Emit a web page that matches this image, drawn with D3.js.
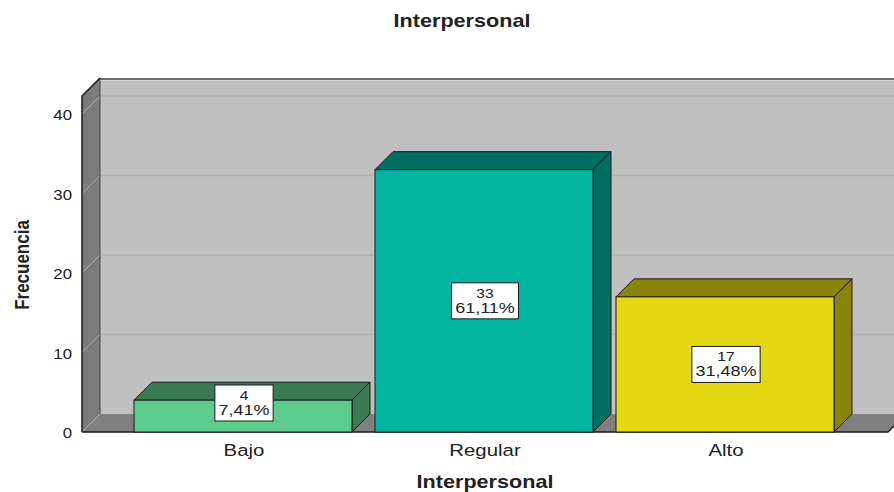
<!DOCTYPE html>
<html>
<head>
<meta charset="utf-8">
<script src="https://cdn.jsdelivr.net/npm/d3@7"></script>
<style>
  body { margin: 0; background: #fff; }
  text { font-family: "Liberation Sans", Arial, sans-serif; fill: #222; }
</style>
</head>
<body>
<div id="chart"></div>
<script>
// data
const categories = ["Bajo", "Regular", "Alto"]
const counts = [4, 33, 17]
const percents = ["7,41%", "61,11%", "31,48%"]
const yTicks = [0, 10, 20, 30, 40]
const frontColors = ["#5ccb8b", "#00b4a0", "#e4d812"]
const darkColors = ["#3a7b55", "#006e62", "#8a840a"]

const W = 894, H = 492
const D = 18            // depth of the 3D effect
const SX = 1.2          // horizontal text stretch
const BASE = 432, WALL_TOP = 96, LEFT = 82, RIGHT = 888

const svg = d3.select("#chart").append("svg")
    .attr("width", W)
    .attr("height", H)

// Scales
const y = d3.scaleLinear()
    .domain([0, 40])
    .range([BASE, 114])
const x = d3.scaleBand()
    .domain(categories)
    .range([122.5, 845.5])
    .paddingInner(0.0954)
    .paddingOuter(0.0477)

function stretched(g, str, px, py, opts) {
  const t = g.append("text")
      .attr("transform", `translate(${px},${py}) scale(${SX},1)` + (opts.rotate ? " rotate(-90)" : ""))
      .attr("text-anchor", opts.anchor || "middle")
      .attr("font-size", opts.size + "px")
      .attr("font-weight", opts.bold ? "bold" : "normal")
      .text(str)
  return t
}

// back wall
svg.append("rect")
    .attr("x", LEFT + D).attr("y", WALL_TOP - D)
    .attr("width", W - LEFT - D).attr("height", BASE - WALL_TOP)
    .attr("fill", "#c0c0c0")

// gridlines on back wall
svg.selectAll(".grid").data(yTicks.filter(d => d > 0)).enter().append("line")
    .attr("x1", LEFT + D).attr("x2", W)
    .attr("y1", d => y(d) - D).attr("y2", d => y(d) - D)
    .attr("stroke", "#b0b0b0").attr("stroke-width", 1.5)

svg.append("line")
    .attr("x1", LEFT + D).attr("x2", W)
    .attr("y1", WALL_TOP - D + 1).attr("y2", WALL_TOP - D + 1)
    .attr("stroke", "#6e6e6e").attr("stroke-width", 2)
svg.append("line")
    .attr("x1", LEFT + D).attr("x2", W)
    .attr("y1", WALL_TOP - D + 2.5).attr("y2", WALL_TOP - D + 2.5)
    .attr("stroke", "#d8d8d8").attr("stroke-width", 1)

// left wall
svg.append("polygon")
    .attr("points", [[LEFT, WALL_TOP], [LEFT + D, WALL_TOP - D], [LEFT + D, BASE - D], [LEFT, BASE]].join(" "))
    .attr("fill", "#7b7b7b")
svg.selectAll(".wtick").data(yTicks.filter(d => d > 0)).enter().append("line")
    .attr("x1", LEFT).attr("x2", LEFT + D)
    .attr("y1", d => y(d)).attr("y2", d => y(d) - D)
    .attr("stroke", "#b4b4b4").attr("stroke-width", 1)
svg.append("line")
    .attr("x1", LEFT + D).attr("x2", LEFT + D)
    .attr("y1", WALL_TOP - D).attr("y2", BASE - D)
    .attr("stroke", "#444").attr("stroke-width", 1)
svg.append("polyline")
    .attr("points", [[LEFT, BASE], [LEFT, WALL_TOP], [LEFT + D, WALL_TOP - D]].join(" "))
    .attr("fill", "none").attr("stroke", "#1a1a1a").attr("stroke-width", 1.5)

// floor
svg.append("polygon")
    .attr("points", [[LEFT, BASE], [LEFT + D, BASE - D], [RIGHT + D, BASE - D], [RIGHT, BASE]].join(" "))
    .attr("fill", "#808080")
svg.append("line")
    .attr("x1", LEFT).attr("x2", LEFT + D)
    .attr("y1", BASE).attr("y2", BASE - D)
    .attr("stroke", "#b4b4b4").attr("stroke-width", 1)
svg.append("polyline")
    .attr("points", [[LEFT, BASE], [RIGHT, BASE], [RIGHT + D, BASE - D]].join(" "))
    .attr("fill", "none").attr("stroke", "#1a1a1a").attr("stroke-width", 1.5)

// bars
const bars = svg.selectAll(".bar").data(categories).enter().append("g").attr("class", "bar")
bars.each(function(c, i) {
  const g = d3.select(this)
  const x0 = x(c), x1 = x(c) + x.bandwidth(), top = y(counts[i])
  g.append("polygon")
      .attr("points", [[x0, top], [x0 + D, top - D], [x1 + D, top - D], [x1, top]].join(" "))
      .attr("fill", darkColors[i]).attr("stroke", "#1a1a1a").attr("stroke-width", 1)
  g.append("polygon")
      .attr("points", [[x1, top], [x1 + D, top - D], [x1 + D, BASE - D], [x1, BASE]].join(" "))
      .attr("fill", darkColors[i]).attr("stroke", "#1a1a1a").attr("stroke-width", 1)
  g.append("rect")
      .attr("x", x0).attr("y", top)
      .attr("width", x.bandwidth()).attr("height", BASE - top)
      .attr("fill", frontColors[i]).attr("stroke", "#1a1a1a").attr("stroke-width", 1)

  // value label box
  const cx = x0 + x.bandwidth() / 2 + 1
  const cy = Math.min((top + BASE) / 2, BASE - 29)
  const box = g.append("rect").attr("fill", "#fff").attr("stroke", "#1a1a1a").attr("stroke-width", 1)
  const t1 = stretched(g, String(counts[i]), cx, cy - 3, { size: 13 })
  const t2 = stretched(g, percents[i], cx, cy + 12, { size: 15 })
  const w = Math.max(t1.node().getBBox().width, t2.node().getBBox().width) * SX + 7
  box.attr("x", cx - w / 2).attr("y", cy - 18).attr("width", w).attr("height", 36)
})

// y tick labels
yTicks.forEach(v => stretched(svg, String(v), 72, y(v) + 6, { size: 14, anchor: "end" }))

// x category labels
categories.forEach(c => stretched(svg, c, x(c) + x.bandwidth() / 2 + 1, 456, { size: 17 }))

// titles
stretched(svg, "Interpersonal", 462, 27, { size: 18, bold: true })
stretched(svg, "Interpersonal", 485, 488, { size: 18, bold: true })
stretched(svg, "Frecuencia", 29, 265, { size: 17, bold: true, rotate: true })
</script>
</body>
</html>
